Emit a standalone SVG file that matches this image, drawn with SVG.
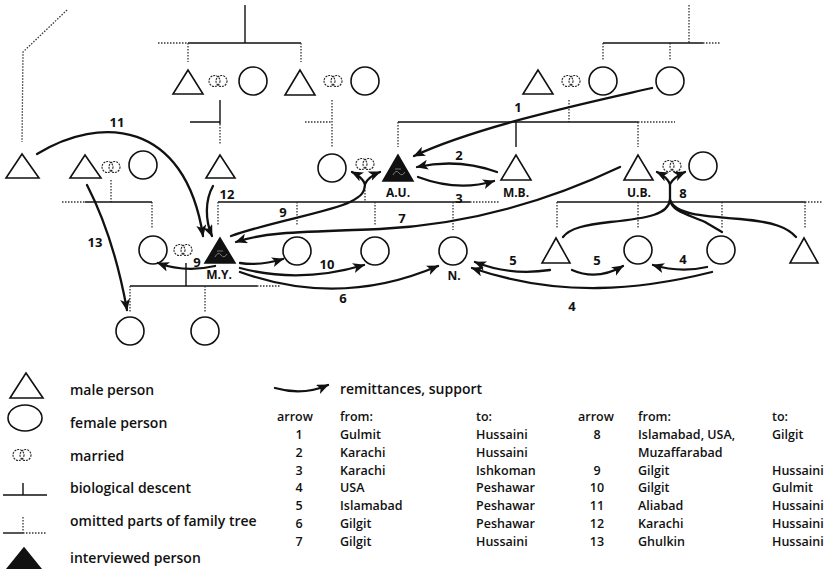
<svg xmlns="http://www.w3.org/2000/svg" width="826" height="569" viewBox="0 0 826 569">
<defs>
<style>
.n{fill:none;stroke:#111;stroke-width:1.6}
.f{fill:#111;stroke:#111;stroke-width:1.6}
.s{fill:none;stroke:#111;stroke-width:1.4}
.d{fill:none;stroke:#333;stroke-width:1.3;stroke-dasharray:1.5 1.5}
.mar{fill:none;stroke:#222;stroke-width:1.1;stroke-dasharray:2 1}
.a{fill:none;stroke:#111;stroke-width:2.3;stroke-linecap:round}
.ah{fill:none;stroke:#111;stroke-width:2.3;stroke-linecap:round;marker-end:url(#arr)}
.lb{font-family:"Open Sans","Liberation Sans",sans-serif;font-weight:700;font-size:13px;fill:#111;text-anchor:middle}
.nm{font-family:"Open Sans","Liberation Sans",sans-serif;font-weight:700;font-size:12px;fill:#111;text-anchor:middle}
.lg{font-family:"Open Sans","Liberation Sans",sans-serif;font-weight:600;font-size:14px;fill:#111}
.tb{font-family:"Open Sans","Liberation Sans",sans-serif;font-weight:600;font-size:12.5px;fill:#111}
.tc{font-family:"Open Sans","Liberation Sans",sans-serif;font-weight:600;font-size:12.5px;fill:#111;text-anchor:middle}
</style>
<marker id="arr" markerUnits="userSpaceOnUse" viewBox="0 0 12 10" refX="11" refY="5" markerWidth="12" markerHeight="10" orient="auto">
<path d="M0,0 L12,5 L0,10 L3,5 z" fill="#111"/>
</marker>
<g id="mar">
<circle cx="-3.5" cy="0" r="5.5" class="mar"/>
<circle cx="3.5" cy="0" r="5.5" class="mar"/>
</g>
</defs>
<rect width="826" height="569" fill="#fff"/>

<g id="tree-lines">
<path class="d" d="M67,10 L23,52 L22,142"/>
<path class="s" d="M245,5 V43 M188,43 H301"/>
<path class="d" d="M158,43 H188 M188,43 V62 M301,43 V62"/>
<path class="s" d="M220,100 V124 M190,122 H220"/>
<path class="d" d="M220,124 V145"/>
<path class="d" d="M332,100 V147 M305,122 H332"/>
<path class="d" d="M689,5 V43 M703,43 H720 M603,43 V60 M670,43 V60"/>
<path class="s" d="M603,43 H703"/>
<path class="d" d="M569,100 V122 M638,122 H675 M398,122 V147 M638,122 V147"/>
<path class="s" d="M398,122 H638 M516,122 V147"/>
<path class="d" d="M111,180 V202 M62,202 H85 M152,202 V228"/>
<path class="s" d="M85,202 H152"/>
<path class="s" d="M218,202 H470"/>
<path class="d" d="M470,202 H500 M218,202 V226 M297,202 V225 M375,202 V226 M453,202 V230 M365,190 V202"/>
<path class="s" d="M557,202 H805"/>
<path class="d" d="M805,202 H822 M557,202 V228 M638,202 V228 M722,202 V228 M805,202 V228"/>
<path class="s" d="M130,286 H257 M186,263 V286"/>
<path class="d" d="M257,286 H280 M130,286 V312 M205,286 V312"/>
</g>

<g id="n-t1"><polygon class="n" points="188,70 173,94 203,94"/></g>
<g id="n-m1"><use href="#mar" x="218" y="81"/></g>
<g id="n-c1"><circle class="n" cx="253" cy="81" r="14"/></g>
<g id="n-t2"><polygon class="n" points="300,70 285,95 315,95"/></g>
<g id="n-m2"><use href="#mar" x="333" y="81"/></g>
<g id="n-c2"><circle class="n" cx="365" cy="81" r="14"/></g>
<g id="n-t3"><polygon class="n" points="538,70 523,94 553,94"/></g>
<g id="n-m3"><use href="#mar" x="571" y="81"/></g>
<g id="n-c3"><circle class="n" cx="603" cy="81" r="14"/></g>
<g id="n-c4"><circle class="n" cx="670" cy="81" r="14"/></g>

<g id="n-t4"><polygon class="n" points="22,154 6,178 39,178"/></g>
<g id="n-t5"><polygon class="n" points="85,155 70,178 101,178"/></g>
<g id="n-m4"><use href="#mar" x="111" y="167"/></g>
<g id="n-c5"><circle class="n" cx="143" cy="165" r="14"/></g>
<g id="n-t6"><polygon class="n" points="220,155 206,178 235,178"/></g>
<g id="n-c6"><circle class="n" cx="332" cy="168" r="14"/></g>
<g id="n-m5"><use href="#mar" x="365" y="164"/></g>
<g id="n-au"><polygon class="f" points="398,155 383,181 413,181"/><path d="M393,175 q3,-6 6,-2 q3,4 6,-1 M395,169 h6" stroke="#777" stroke-width="1" fill="none"/><text class="nm" x="398" y="197">A.U.</text></g>
<g id="n-mb"><polygon class="n" points="516,155 501,180 531,180"/><text class="nm" x="516" y="197">M.B.</text></g>
<g id="n-ub"><polygon class="n" points="638,155 624,180 653,180"/><text class="nm" x="639" y="197">U.B.</text></g>
<g id="n-m6"><use href="#mar" x="672" y="166"/></g>
<g id="n-c7"><circle class="n" cx="703" cy="166" r="14"/></g>

<g id="n-c8"><circle class="n" cx="153" cy="250" r="14"/></g>
<g id="n-m7"><use href="#mar" x="183" y="250"/></g>
<g id="n-my"><polygon class="f" points="220,238 205,263 235,263"/><path d="M215,257 q3,-6 6,-2 q3,4 6,-1 M217,251 h6" stroke="#777" stroke-width="1" fill="none"/><text class="nm" x="219" y="279">M.Y.</text></g>
<g id="n-c9"><circle class="n" cx="297" cy="251" r="14"/></g>
<g id="n-c10"><circle class="n" cx="375" cy="251" r="14"/></g>
<g id="n-n"><circle class="n" cx="453" cy="251" r="14"/><text class="nm" x="454" y="280">N.</text></g>
<g id="n-t7"><polygon class="n" points="556,238 542,263 570,263"/></g>
<g id="n-c12"><circle class="n" cx="638" cy="250" r="14"/></g>
<g id="n-c13"><circle class="n" cx="721" cy="250" r="14"/></g>
<g id="n-t8"><polygon class="n" points="804,238 790,263 818,263"/></g>
<g id="n-c14"><circle class="n" cx="130" cy="331" r="14"/></g>
<g id="n-c15"><circle class="n" cx="205" cy="331" r="14"/></g>

<g id="connectors">
<path class="ah" d="M652,88 C600,100 480,125 414,156"/>
<path class="ah" d="M497,172 Q458,158 417,167"/>
<path class="ah" d="M418,177 Q458,192 494,181"/>
<path class="ah" d="M620,167 C540,205 460,225 380,229 C300,232 265,232 236,242"/>
<path class="a" d="M231,236 C270,222 330,212 350,202 C362,196 365,192 365,183"/>
<path class="ah" d="M365,184 Q362,177 352,172"/>
<path class="ah" d="M365,184 Q368,177 380,172"/>
<path class="ah" d="M215,266 Q185,273 158,263"/>
<path class="ah" d="M240,263 Q260,266 283,259"/>
<path class="ah" d="M240,268 Q300,284 364,265"/>
<path class="ah" d="M240,272 Q340,308 438,266"/>
<path class="ah" d="M550,270 Q510,276 475,262"/>
<path class="ah" d="M572,270 Q597,281 623,266"/>
<path class="ah" d="M707,267 Q680,273 653,265"/>
<path class="ah" d="M712,272 C640,290 560,298 472,268"/>
<path class="a" d="M670,203 V184"/>
<path class="ah" d="M670,184 Q667,177 657,172"/>
<path class="ah" d="M670,184 Q674,177 685,172"/>
<path class="a" d="M670,200 C668,214 650,218 610,222 C585,225 570,228 563,237"/>
<path class="a" d="M670,200 C672,212 690,215 705,222 L722,232"/>
<path class="a" d="M670,200 C675,214 700,216 740,219 C775,222 788,228 796,237"/>
<path class="ah" d="M37,154 C100,115 185,120 203,236"/>
<path class="ah" d="M213,186 C205,200 205,220 212,236"/>
<path class="ah" d="M87,185 C105,220 118,260 127,310"/>
</g>

<g id="labels">
<text class="lb" x="117" y="127">11</text>
<text class="lb" x="227" y="199">12</text>
<text class="lb" x="95" y="247">13</text>
<text class="lb" x="283" y="217">9</text>
<text class="lb" x="197" y="267">9</text>
<text class="lb" x="402" y="223">7</text>
<text class="lb" x="327" y="269">10</text>
<text class="lb" x="343" y="303">6</text>
<text class="lb" x="518" y="112">1</text>
<text class="lb" x="459" y="160">2</text>
<text class="lb" x="459" y="203">3</text>
<text class="lb" x="513" y="265">5</text>
<text class="lb" x="597" y="265">5</text>
<text class="lb" x="683" y="264">4</text>
<text class="lb" x="572" y="311">4</text>
<text class="lb" x="683" y="198">8</text>
</g>

<g id="legend">
<polygon class="n" points="26,373 10,398 43,398"/>
<text class="lg" x="70" y="395">male person</text>
<ellipse class="n" cx="25" cy="418" rx="17" ry="13"/>
<text class="lg" x="70" y="428">female person</text>
<use href="#mar" x="22" y="455"/>
<text class="lg" x="70" y="461">married</text>
<path class="s" d="M3,495 H47 M23,483 V495"/>
<text class="lg" x="70" y="493">biological descent</text>
<path class="s" d="M3,533 H23"/>
<path class="d" d="M23,533 H47 M23,517 V533"/>
<text class="lg" x="70" y="526">omitted parts of family tree</text>
<polygon class="f" points="24,548 7,569 41,569"/>
<text class="lg" x="70" y="563">interviewed person</text>
<path class="ah" d="M275,388 Q303,396 328,385"/>
<text class="lg" x="340" y="394">remittances, support</text>
</g>

<g id="table">
<text class="tb" x="277" y="421">arrow</text>
<text class="tb" x="340" y="421">from:</text>
<text class="tb" x="476" y="421">to:</text>
<text class="tc" x="299" y="439">1</text><text class="tb" x="340" y="439">Gulmit</text><text class="tb" x="476" y="439">Hussaini</text>
<text class="tc" x="299" y="457">2</text><text class="tb" x="340" y="457">Karachi</text><text class="tb" x="476" y="457">Hussaini</text>
<text class="tc" x="299" y="474.6">3</text><text class="tb" x="340" y="474.6">Karachi</text><text class="tb" x="476" y="474.6">Ishkoman</text>
<text class="tc" x="299" y="492.4">4</text><text class="tb" x="340" y="492.4">USA</text><text class="tb" x="476" y="492.4">Peshawar</text>
<text class="tc" x="299" y="510.2">5</text><text class="tb" x="340" y="510.2">Islamabad</text><text class="tb" x="476" y="510.2">Peshawar</text>
<text class="tc" x="299" y="528">6</text><text class="tb" x="340" y="528">Gilgit</text><text class="tb" x="476" y="528">Peshawar</text>
<text class="tc" x="299" y="545.8">7</text><text class="tb" x="340" y="545.8">Gilgit</text><text class="tb" x="476" y="545.8">Hussaini</text>
<text class="tb" x="578" y="421">arrow</text>
<text class="tb" x="638" y="421">from:</text>
<text class="tb" x="772" y="421">to:</text>
<text class="tc" x="597" y="439">8</text><text class="tb" x="638" y="439">Islamabad, USA,</text><text class="tb" x="772" y="439">Gilgit</text>
<text class="tb" x="638" y="457">Muzaffarabad</text>
<text class="tc" x="597" y="474.6">9</text><text class="tb" x="638" y="474.6">Gilgit</text><text class="tb" x="772" y="474.6">Hussaini</text>
<text class="tc" x="597" y="492.4">10</text><text class="tb" x="638" y="492.4">Gilgit</text><text class="tb" x="772" y="492.4">Gulmit</text>
<text class="tc" x="597" y="510.2">11</text><text class="tb" x="638" y="510.2">Aliabad</text><text class="tb" x="772" y="510.2">Hussaini</text>
<text class="tc" x="597" y="528">12</text><text class="tb" x="638" y="528">Karachi</text><text class="tb" x="772" y="528">Hussaini</text>
<text class="tc" x="597" y="545.8">13</text><text class="tb" x="638" y="545.8">Ghulkin</text><text class="tb" x="772" y="545.8">Hussaini</text>
</g>
</svg>
